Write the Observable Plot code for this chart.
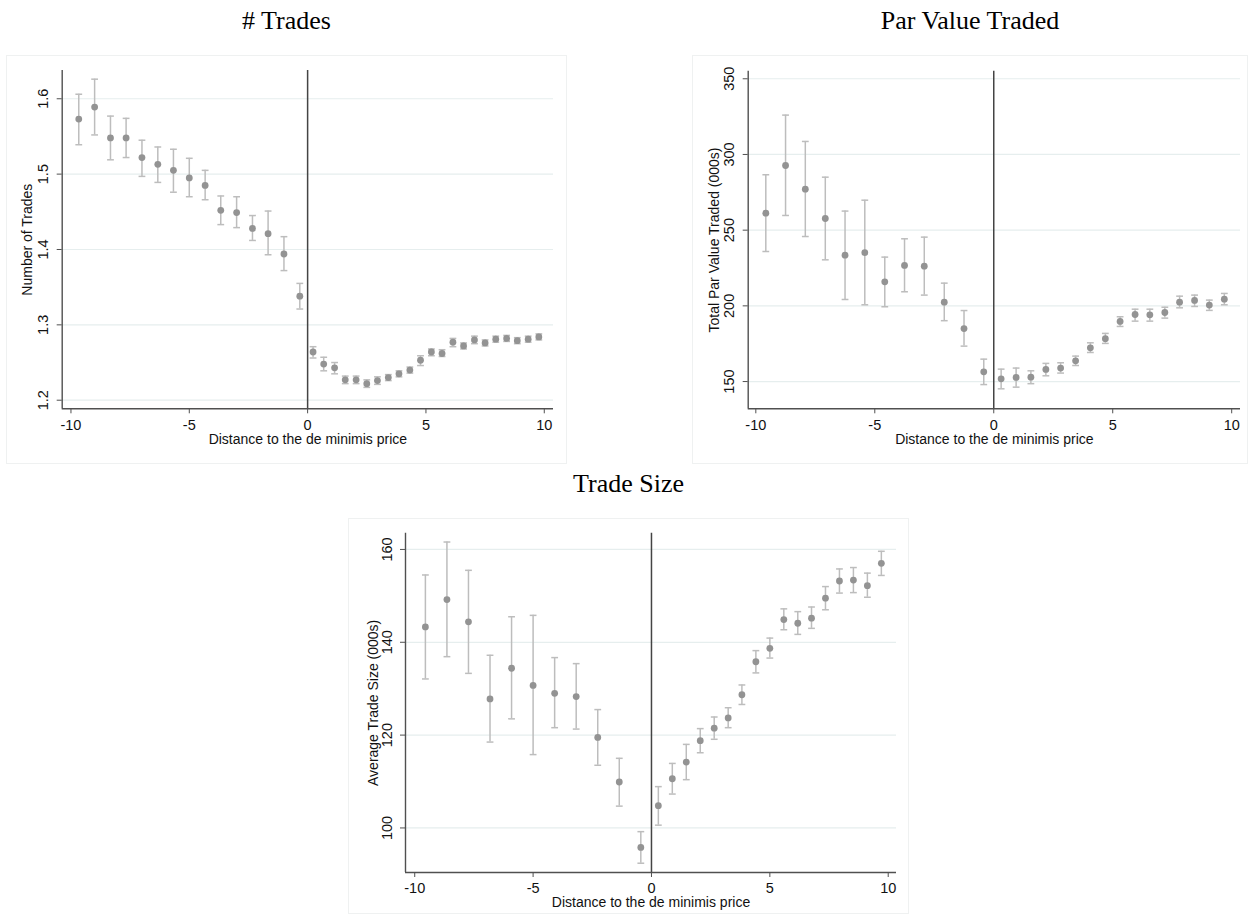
<!DOCTYPE html>
<html>
<head>
<meta charset="utf-8">
<script src="https://cdn.jsdelivr.net/npm/d3@7"></script>
<script src="https://cdn.jsdelivr.net/npm/@observablehq/plot@0.6"></script>
<style>
  html, body { margin: 0; padding: 0; background: #fff; }
  #root { position: relative; width: 1252px; height: 914px; overflow: hidden; background: #fff; }
  .panel { position: absolute; outline: 1px solid #eff1f1; outline-offset: -1px; }
  .panel svg { display: block; }
  .title { position: absolute; font-family: "Liberation Serif", "Times New Roman", serif; font-size: 26px; line-height: 26px; text-align: center; color: #000; white-space: nowrap; }
</style>
</head>
<body>
<div id="root"></div>
<script>
// ---------- data ----------
const xTicks = [-10, -5, 0, 5, 10];

// # Trades
const tradesX  = [-9.67, -9.00, -8.33, -7.67, -7.00, -6.33, -5.67, -5.00, -4.33, -3.67, -3.00, -2.33, -1.67, -1.00, -0.33,
                  0.23, 0.68, 1.14, 1.59, 2.05, 2.50, 2.95, 3.41, 3.86, 4.32, 4.77, 5.23, 5.68, 6.14, 6.59, 7.05, 7.50, 7.95, 8.41, 8.86, 9.32, 9.77];
const tradesY  = [1.573, 1.589, 1.548, 1.548, 1.522, 1.513, 1.505, 1.495, 1.485, 1.452, 1.449, 1.428, 1.421, 1.394, 1.338,
                  1.264, 1.248, 1.243, 1.227, 1.227, 1.222, 1.226, 1.230, 1.235, 1.240, 1.253, 1.264, 1.262, 1.277, 1.272, 1.280, 1.276, 1.281, 1.282, 1.279, 1.281, 1.284];
const tradesLo = [1.539, 1.552, 1.519, 1.522, 1.497, 1.489, 1.476, 1.470, 1.466, 1.433, 1.429, 1.412, 1.393, 1.372, 1.321,
                  1.256, 1.239, 1.235, 1.222, 1.222, 1.217, 1.221, 1.226, 1.231, 1.236, 1.246, 1.259, 1.258, 1.271, 1.268, 1.275, 1.272, 1.277, 1.278, 1.275, 1.277, 1.280];
const tradesHi = [1.606, 1.626, 1.577, 1.574, 1.545, 1.536, 1.533, 1.521, 1.505, 1.471, 1.470, 1.445, 1.451, 1.417, 1.355,
                  1.271, 1.257, 1.250, 1.232, 1.232, 1.227, 1.231, 1.234, 1.239, 1.244, 1.259, 1.268, 1.267, 1.282, 1.276, 1.285, 1.280, 1.285, 1.286, 1.283, 1.285, 1.288];
const tradesTicks = [1.2, 1.3, 1.4, 1.5, 1.6];

// Par Value Traded
const parX  = [-9.58, -8.75, -7.92, -7.08, -6.25, -5.42, -4.58, -3.75, -2.92, -2.08, -1.25, -0.42,
               0.31, 0.94, 1.56, 2.19, 2.81, 3.44, 4.06, 4.69, 5.31, 5.94, 6.56, 7.19, 7.81, 8.44, 9.06, 9.69];
const parY  = [261.2, 292.7, 277.1, 257.7, 233.5, 235.1, 215.9, 226.7, 226.2, 202.4, 185.0, 156.4,
               151.8, 152.7, 152.9, 158.0, 158.9, 163.7, 172.3, 178.3, 189.7, 194.3, 194.1, 195.6, 202.4, 203.6, 200.5, 204.4];
const parLo = [235.9, 259.7, 245.8, 230.4, 204.2, 200.7, 199.4, 209.3, 207.1, 190.2, 173.4, 148.0,
               145.2, 146.3, 148.6, 153.8, 155.6, 160.6, 169.2, 175.2, 186.4, 189.9, 189.9, 191.9, 198.7, 199.6, 197.0, 200.7];
const parHi = [286.6, 326.0, 308.6, 285.0, 262.6, 269.8, 232.2, 244.3, 245.4, 215.0, 196.9, 164.8,
               158.2, 158.9, 157.1, 162.0, 162.4, 166.8, 175.6, 181.8, 192.8, 197.8, 197.8, 199.1, 206.4, 207.1, 203.8, 208.2];
const parTicks = [150, 200, 250, 300, 350];

// Trade Size
const sizeX  = [-9.55, -8.64, -7.73, -6.82, -5.91, -5.00, -4.09, -3.18, -2.27, -1.36, -0.45,
                0.29, 0.88, 1.47, 2.06, 2.65, 3.24, 3.82, 4.41, 5.00, 5.59, 6.18, 6.76, 7.35, 7.94, 8.53, 9.12, 9.71];
const sizeY  = [143.3, 149.2, 144.4, 127.8, 134.4, 130.7, 129.0, 128.3, 119.5, 109.9, 95.8,
                104.8, 110.6, 114.2, 118.8, 121.5, 123.7, 128.7, 135.8, 138.7, 144.9, 144.1, 145.2, 149.5, 153.2, 153.4, 152.2, 157.0];
const sizeLo = [132.1, 136.9, 133.3, 118.5, 123.5, 115.8, 121.6, 121.3, 113.5, 104.7, 92.4,
                100.6, 107.3, 110.4, 116.2, 119.1, 121.6, 126.6, 133.4, 136.6, 142.7, 141.7, 143.0, 147.0, 150.6, 150.7, 149.7, 154.4];
const sizeHi = [154.5, 161.6, 155.5, 137.2, 145.5, 145.8, 136.7, 135.4, 125.5, 115.0, 99.2,
                108.9, 113.9, 118.0, 121.4, 123.9, 125.9, 130.8, 138.2, 140.9, 147.2, 146.6, 147.6, 152.0, 155.8, 156.1, 154.9, 159.6];
const sizeTicks = [100, 120, 140, 160];

const xTitle = "Distance to the de minimis price";

// ---------- drawing ----------
const root = document.getElementById("root");
const capSymbol = {
  draw(context, size) {
    const r = Math.sqrt(size / Math.PI);
    context.moveTo(-r, 0);
    context.lineTo(r, 0);
  }
};
const AXIS = "#505050";
const BAR = "#bdbdbd";
const DOT = "#939393";
const GRID = "#e6eeee";

function panel(cfg) {
  const rows = cfg.x.map((x, i) => ({x, y: cfg.y[i], lo: cfg.lo[i], hi: cfg.hi[i]}));
  const fmt = d => String(d);
  const svg = Plot.plot({
    width: cfg.w, height: cfg.h,
    marginLeft: cfg.ml, marginRight: cfg.mr, marginTop: cfg.mt, marginBottom: cfg.mb,
    x: {domain: cfg.xd},
    y: {domain: cfg.yd},
    style: {fontFamily: "'Liberation Sans', Arial, sans-serif", fontSize: "14.5px", background: "#fff", color: "#111", overflow: "visible"},
    marks: [
      Plot.gridY(cfg.ticks, {stroke: GRID, strokeOpacity: 1, strokeWidth: 1.2}),
      Plot.ruleX([0], {stroke: "#444", strokeWidth: 1.5}),
      Plot.ruleX(rows, {x: "x", y1: "lo", y2: "hi", stroke: BAR, strokeWidth: 1.5}),
      Plot.dot(rows, {x: "x", y: "lo", symbol: capSymbol, r: 3.4, fill: "none", stroke: BAR, strokeWidth: 1.5}),
      Plot.dot(rows, {x: "x", y: "hi", symbol: capSymbol, r: 3.4, fill: "none", stroke: BAR, strokeWidth: 1.5}),
      Plot.dot(rows, {x: "x", y: "y", r: 3.4, fill: DOT, stroke: "none"}),
      Plot.ruleY([cfg.yd[0]], {stroke: AXIS, strokeWidth: 1.4}),
      Plot.ruleX([cfg.xd[0]], {stroke: AXIS, strokeWidth: 1.4}),
      Plot.axisX(xTicks, {tickSize: 5, tickPadding: 5.5, tickFormat: fmt, stroke: AXIS, label: null, fontSize: 14.5}),
      Plot.axisY(cfg.ticks, {tickSize: 5, tickPadding: 9, tickRotate: -90, textAnchor: "middle", tickFormat: fmt, stroke: AXIS, label: null, fontSize: 14.5}),
      Plot.text([cfg.yTitle], {frameAnchor: "left", textAnchor: "middle", lineAnchor: "middle", rotate: -90, dx: cfg.ytdx, fontSize: 14, fill: "#111"}),
      Plot.text([xTitle], {frameAnchor: "bottom", textAnchor: "middle", lineAnchor: "middle", dy: cfg.xtdy, fontSize: 14, fill: "#111"})
    ]
  });
  const div = document.createElement("div");
  div.className = "panel";
  div.style.left = cfg.left + "px";
  div.style.top = cfg.top + "px";
  div.style.width = cfg.w + "px";
  div.style.height = cfg.h + "px";
  div.appendChild(svg);
  root.appendChild(div);

  const t = document.createElement("div");
  t.className = "title";
  t.textContent = cfg.title;
  t.style.left = (cfg.left + cfg.w / 2 - 200) + "px";
  t.style.width = "400px";
  t.style.top = cfg.titleTop + "px";
  root.appendChild(t);
}

panel({
  title: "# Trades", titleTop: 7.7,
  left: 6, top: 55, w: 561, h: 409, ml: 55.7, mr: 14, mt: 15, mb: 55.7,
  xd: [-10.37, 10.39], yd: [1.1886, 1.6375],
  x: tradesX, y: tradesY, lo: tradesLo, hi: tradesHi, ticks: tradesTicks,
  yTitle: "Number of Trades", ytdx: -34.5, xtdy: 31
});
panel({
  title: "Par Value Traded", titleTop: 7.7,
  left: 692, top: 55, w: 556, h: 409, ml: 55.7, mr: 8, mt: 15.7, mb: 55.7,
  xd: [-10.32, 10.37], yd: [132.0, 355.0],
  x: parX, y: parY, lo: parLo, hi: parHi, ticks: parTicks,
  yTitle: "Total Par Value Traded (000s)", ytdx: -33.5, xtdy: 31
});
panel({
  title: "Trade Size", titleTop: 471,
  left: 348, top: 518, w: 561, h: 396, ml: 57, mr: 13, mt: 14.7, mb: 42,
  xd: [-10.39, 10.35], yd: [90.4, 163.5],
  x: sizeX, y: sizeY, lo: sizeLo, hi: sizeHi, ticks: sizeTicks,
  yTitle: "Average Trade Size (000s)", ytdx: -32, xtdy: 29.7
});
</script>
</body>
</html>
